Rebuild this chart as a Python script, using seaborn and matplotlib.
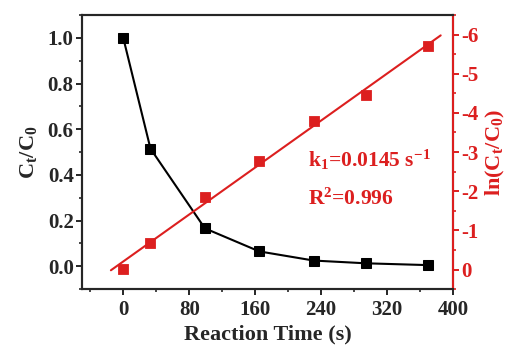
import numpy as np
import pandas as pd
import seaborn as sns
import matplotlib
matplotlib.use("Agg")
import matplotlib.pyplot as plt
from matplotlib.ticker import MultipleLocator, FormatStrFormatter

# data
time_s = [0, 33, 99, 165, 231, 294, 370]
ratio = [1.0, 0.515, 0.166, 0.065, 0.025, 0.013, 0.005]
ln_ratio = [-0.02, -0.69, -1.86, -2.78, -3.80, -4.46, -5.71]

red = "#dc1f1f"

sns.set_style("ticks")
plt.rcParams["font.family"] = ["Liberation Serif", "DejaVu Serif"]
plt.rcParams["font.weight"] = "bold"
plt.rcParams["axes.labelweight"] = "bold"
plt.rcParams["mathtext.default"] = "regular"
plt.rcParams["axes.unicode_minus"] = False

df = pd.DataFrame({"time": time_s, "ratio": ratio, "ln": ln_ratio})

# linear fit for ln(Ct/C0)
k, b = np.polyfit(time_s, ln_ratio, 1)
fit_x = np.array([-15, 385])
fit = pd.DataFrame({"time": fit_x, "ln": k * fit_x + b})

fig = plt.figure(figsize=(5.16, 3.5), dpi=100)
ax = fig.add_axes([0.159, 0.174, 0.719, 0.783])
ax2 = ax.twinx()

sns.lineplot(data=df, x="time", y="ratio", ax=ax, color="black", lw=1.5,
             marker="s", markersize=7.5, markeredgecolor="black", zorder=3)
sns.lineplot(data=fit, x="time", y="ln", ax=ax2, color=red, lw=1.5)
sns.scatterplot(data=df, x="time", y="ln", ax=ax2, color=red, marker="s",
                s=55, edgecolor=red, zorder=4)

ax.set_xlim(-50, 400)
ax.set_ylim(-0.1, 1.1)
ax2.set_ylim(0.5, -6.5)

ax.xaxis.set_major_locator(MultipleLocator(80))
ax.xaxis.set_minor_locator(MultipleLocator(40))
ax.yaxis.set_major_locator(MultipleLocator(0.2))
ax.yaxis.set_minor_locator(MultipleLocator(0.1))
ax2.yaxis.set_major_locator(MultipleLocator(1))
ax2.yaxis.set_minor_locator(MultipleLocator(0.5))

ax.set_xlabel("Reaction Time (s)", fontsize=16, fontweight="bold", labelpad=3)
ax.set_ylabel("C$_t$/C$_0$", fontsize=16, fontweight="bold", labelpad=6)
ax2.set_ylabel("ln(C$_t$/C$_0$)", fontsize=16, fontweight="bold", color=red, labelpad=4)

for a in (ax, ax2):
    a.tick_params(which="major", direction="out", length=4, width=1.4,
                  labelsize=15, pad=2)
    a.tick_params(which="minor", direction="out", length=2.5, width=1.2)
    for sp in a.spines.values():
        sp.set_linewidth(1.5)
        sp.set_visible(True)
ax.tick_params(axis="x", which="major", pad=4)
ax2.tick_params(axis="y", which="both", colors=red)
ax2.spines["right"].set_color(red)
ax.yaxis.set_major_formatter(FormatStrFormatter("%.1f"))
ax2.yaxis.set_major_formatter(FormatStrFormatter("%d"))
for lab in ax.get_xticklabels() + ax.get_yticklabels() + ax2.get_yticklabels():
    lab.set_fontweight("bold")

ax2.text(224, -2.8, "k$_1$=0.0145 s$^{-1}$", color=red, fontsize=15.5,
         fontweight="bold", va="center")
ax2.text(224, -1.8, "R$^2$=0.996", color=red, fontsize=15.5,
         fontweight="bold", va="center")

fig.savefig("out.png", dpi=100)
